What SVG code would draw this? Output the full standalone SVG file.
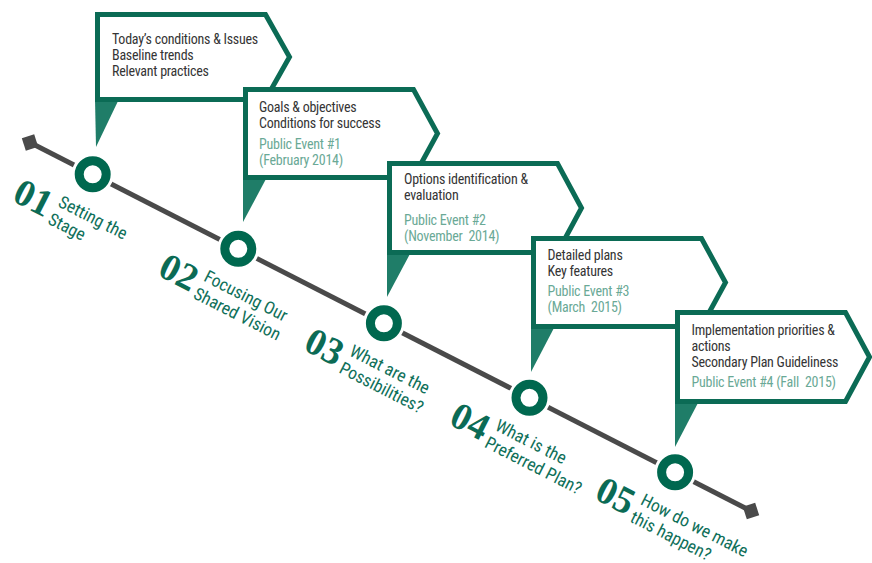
<svg xmlns="http://www.w3.org/2000/svg" width="872" height="563" viewBox="0 0 872 563">
<defs>
<style>
.box{fill:#fff;stroke:#0b6b55;stroke-width:5;stroke-linejoin:miter}
.ptr{fill:#1f7d68}
.bt{font-family:"Liberation Sans Narrow","Roboto Condensed","DejaVu Sans Condensed",sans-serif;font-size:14px;letter-spacing:-0.25px;fill:#353535}
.ev{fill:#6aa996}
.halo{fill:#fff}
.ring{fill:none;stroke:#00684f;stroke-width:9}
.num{font-family:"Liberation Serif","DejaVu Serif",serif;font-weight:bold;font-size:38px;fill:#0b6b55}
.lab{font-family:"Liberation Sans Narrow","Roboto Condensed","DejaVu Sans Condensed",sans-serif;font-size:17.5px;fill:#10705a}
.tl{stroke:#4a4a4a;stroke-width:5;fill:none}
.dia{fill:#4a4a4a}
</style>
</defs>
<rect width="872" height="563" fill="#fff"/>
<g id="connectors">
<line class="tl" x1="30" y1="142.5" x2="751" y2="511"/>
<rect class="dia" x="-6.5" y="-6.5" width="13" height="13" transform="translate(30,142.5) rotate(72)"/>
<rect class="dia" x="-6.5" y="-6.5" width="13" height="13" transform="translate(751,511) rotate(72)"/>
</g>
<g id="stage1" transform="translate(92.7,174.3)">
<circle class="halo" r="21"/><circle class="ring" r="13.5"/>
<text class="num" transform="translate(-82,26) rotate(27)">01</text>
<text class="lab" transform="translate(-35.6,31.7) rotate(27)"><tspan x="0" y="0">Setting the</tspan><tspan x="-1.5" y="20">Stage</tspan></text>
</g>
<g id="stage2" transform="translate(238.3,248.8)">
<circle class="halo" r="21"/><circle class="ring" r="13.5"/>
<text class="num" transform="translate(-82,26) rotate(27)">02</text>
<text class="lab" transform="translate(-35.6,31.7) rotate(27)"><tspan x="0" y="0">Focusing Our</tspan><tspan x="-1.5" y="20">Shared Vision</tspan></text>
</g>
<g id="stage3" transform="translate(383.9,323.3)">
<circle class="halo" r="21"/><circle class="ring" r="13.5"/>
<text class="num" transform="translate(-82,26) rotate(27)">03</text>
<text class="lab" transform="translate(-35.6,31.7) rotate(27)"><tspan x="0" y="0">What are the</tspan><tspan x="-1.5" y="20">Possibilities?</tspan></text>
</g>
<g id="stage4" transform="translate(529.5,397.8)">
<circle class="halo" r="21"/><circle class="ring" r="13.5"/>
<text class="num" transform="translate(-82,26) rotate(27)">04</text>
<text class="lab" transform="translate(-35.6,31.7) rotate(27)"><tspan x="0" y="0">What is the</tspan><tspan x="-1.5" y="20">Preferred Plan?</tspan></text>
</g>
<g id="stage5" transform="translate(675.1,472.3)">
<circle class="halo" r="21"/><circle class="ring" r="13.5"/>
<text class="num" transform="translate(-82,26) rotate(27)">05</text>
<text class="lab" transform="translate(-35.6,31.7) rotate(27)"><tspan x="0" y="0">How do we make</tspan><tspan x="-1.5" y="20">this happen?</tspan></text>
</g>
<g id="box1">
<polygon class="ptr" points="95,99 119,99 96,147"/>
<path class="box" d="M97.5,14.5 H265.5 L289.5,57 L265.5,99.5 H97.5 Z"/>
<text class="bt"><tspan x="112" y="44">Today’s conditions &amp; Issues</tspan><tspan x="112" y="60">Baseline trends</tspan><tspan x="112" y="76">Relevant practices</tspan></text>
</g>
<g id="box2">
<polygon class="ptr" points="243,177 267,177 243,222"/>
<path class="box" d="M245.5,89.5 H413.5 L437.5,133.5 L413.5,177.5 H245.5 Z"/>
<text class="bt"><tspan x="259" y="112">Goals &amp; objectives</tspan><tspan x="259" y="128">Conditions for success</tspan></text>
<text class="bt ev"><tspan x="259" y="149">Public Event #1</tspan><tspan x="259" y="165">(February 2014)</tspan></text>
</g>
<g id="box3">
<polygon class="ptr" points="387,252 411,252 387,297"/>
<path class="box" d="M389.5,163.5 H557.5 L581.5,208 L557.5,252.5 H389.5 Z"/>
<text class="bt"><tspan x="404" y="184">Options identification &amp;</tspan><tspan x="404" y="200">evaluation</tspan></text>
<text class="bt ev" xml:space="preserve"><tspan x="404" y="224.5">Public Event #2</tspan><tspan x="404" y="240.5">(November  2014)</tspan></text>
</g>
<g id="box4">
<polygon class="ptr" points="531,326 555,326 531,372"/>
<path class="box" d="M533.5,238.5 H701.5 L725.5,282.5 L701.5,326.5 H533.5 Z"/>
<text class="bt"><tspan x="547.5" y="259.5">Detailed plans</tspan><tspan x="547.5" y="276">Key features</tspan></text>
<text class="bt ev" xml:space="preserve"><tspan x="547.5" y="296">Public Event #3</tspan><tspan x="547.5" y="312">(March  2015)</tspan></text>
</g>
<g id="box5">
<polygon class="ptr" points="675,401 699,401 675,447"/>
<path class="box" d="M677.5,312.5 H845.5 L869.5,357 L845.5,401.5 H677.5 Z"/>
<text class="bt"><tspan x="691.5" y="335">Implementation priorities &amp;</tspan><tspan x="691.5" y="350.5">actions</tspan><tspan x="691.5" y="366.5">Secondary Plan Guideliness</tspan></text>
<text class="bt ev" xml:space="preserve"><tspan x="691.5" y="386.5">Public Event #4 (Fall  2015)</tspan></text>
</g>
</svg>
